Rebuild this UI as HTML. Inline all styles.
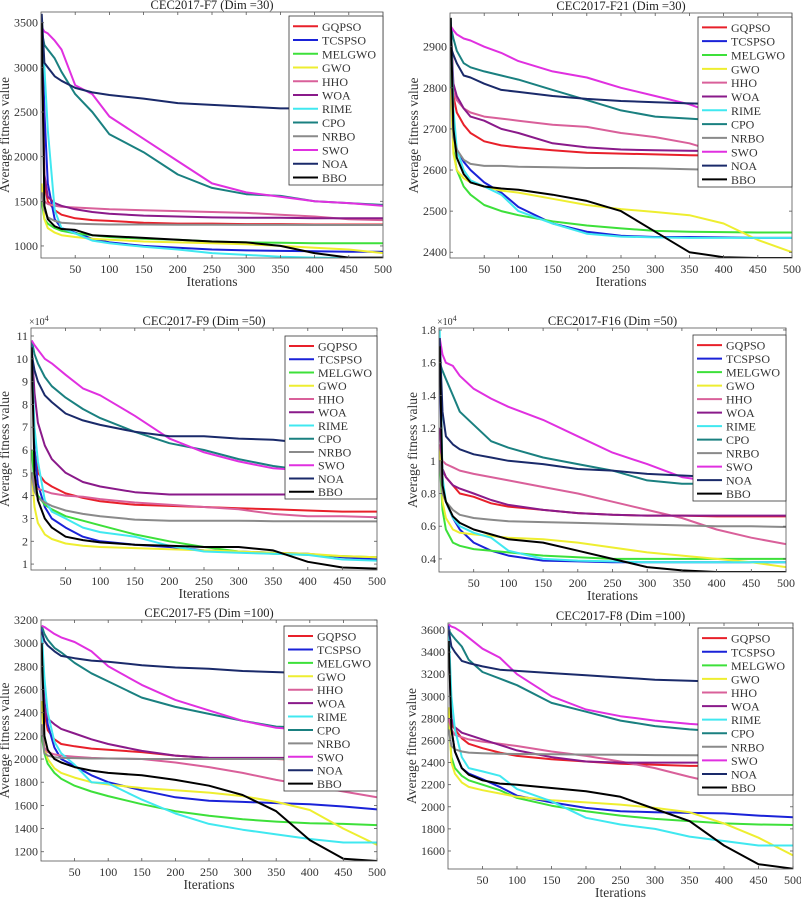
<!DOCTYPE html>
<html><head><meta charset="utf-8">
<style>
html,body{margin:0;padding:0;background:#fff;}
svg{display:block;font-family:"Liberation Serif",serif;}
</style></head>
<body>
<svg id="fig" width="801" height="899" viewBox="0 0 801 899"></svg>
<script>
const iters = [1,5,10,20,30,50,75,100,150,200,250,300,350,400,450,500];
const seriesNames = ["GQPSO","TCSPSO","MELGWO","GWO","HHO","WOA","RIME","CPO","NRBO","SWO","NOA","BBO"];
const seriesColors = ["#e8202a","#1a22d8","#3de03a","#eeee30","#d9609a","#8a1a8a","#40e8f0","#1a8080","#8a8a8a","#e030e0","#1a2a6a","#000000"];
const xTicks = [50,100,150,200,250,300,350,400,450,500];

const f7Values = [
[3500,1700,1500,1400,1350,1310,1290,1280,1260,1250,1250,1245,1245,1240,1240,1240],
[3550,2500,1700,1300,1200,1150,1080,1040,1000,980,960,950,945,940,935,935],
[1500,1300,1250,1200,1170,1140,1120,1100,1080,1070,1050,1040,1035,1030,1030,1030],
[1700,1300,1200,1150,1120,1100,1080,1070,1050,1040,1030,1020,1000,980,960,920],
[1600,1500,1470,1450,1440,1430,1420,1410,1400,1390,1380,1370,1350,1330,1300,1290],
[3500,1800,1550,1480,1450,1410,1380,1360,1340,1330,1320,1315,1315,1310,1310,1310],
[3500,3000,2300,1400,1200,1140,1060,1030,990,960,920,900,880,870,865,865],
[3400,3250,3200,3100,2950,2700,2500,2250,2050,1800,1650,1580,1560,1500,1480,1460],
[1600,1400,1320,1280,1260,1250,1245,1240,1240,1238,1238,1236,1236,1235,1235,1235],
[3450,3400,3380,3300,3200,2800,2700,2450,2200,1950,1700,1600,1550,1500,1480,1450],
[3600,3050,3000,2900,2850,2770,2720,2690,2650,2600,2580,2560,2540,2540,2540,2530],
[3500,1450,1300,1220,1190,1180,1120,1110,1090,1070,1050,1040,1000,920,870,870]];
const f7Ticks = [1000,1500,2000,2500,3000,3500];

const f21Values = [
[2970,2780,2740,2710,2690,2670,2660,2655,2648,2642,2640,2638,2636,2635,2634,2633],
[2960,2700,2650,2620,2600,2570,2545,2510,2470,2450,2440,2437,2437,2436,2435,2435],
[2850,2650,2600,2560,2540,2515,2500,2490,2475,2465,2458,2452,2450,2449,2448,2448],
[2800,2640,2600,2580,2570,2560,2550,2545,2530,2515,2505,2498,2490,2470,2430,2400],
[2950,2790,2770,2750,2740,2730,2725,2720,2710,2705,2690,2680,2665,2640,2620,2590],
[2950,2810,2780,2750,2730,2720,2700,2690,2665,2655,2650,2648,2647,2646,2646,2646],
[2970,2750,2650,2600,2575,2560,2540,2500,2470,2445,2438,2436,2435,2435,2435,2435],
[2950,2920,2890,2860,2850,2840,2830,2820,2795,2770,2745,2730,2725,2720,2710,2690],
[2900,2680,2650,2625,2615,2610,2610,2608,2607,2605,2605,2604,2602,2600,2598,2598],
[2950,2940,2930,2920,2915,2900,2885,2865,2840,2825,2800,2780,2760,2730,2715,2700],
[2900,2880,2860,2830,2825,2810,2795,2790,2780,2773,2768,2765,2762,2760,2760,2760],
[2970,2700,2630,2590,2570,2560,2555,2552,2540,2525,2500,2450,2400,2388,2386,2386]];
const f21Ticks = [2400,2500,2600,2700,2800,2900];

const f9Values = [
[10.5,6,5,4.6,4.4,4.1,3.9,3.75,3.6,3.55,3.5,3.45,3.4,3.35,3.3,3.3],
[10.8,6,4.5,3.5,3.0,2.6,2.2,2.0,1.85,1.75,1.6,1.55,1.5,1.45,1.3,1.2],
[6,4.5,4,3.6,3.4,3.1,2.9,2.7,2.3,2.0,1.75,1.55,1.45,1.4,1.35,1.3],
[5,3.5,2.8,2.3,2.1,1.9,1.8,1.75,1.7,1.65,1.6,1.55,1.5,1.45,1.35,1.3],
[5,4.5,4.3,4.2,4.1,4.0,3.95,3.85,3.7,3.6,3.5,3.4,3.2,3.1,3.1,3.05],
[10.5,8.5,7.2,6.2,5.6,5.0,4.6,4.4,4.15,4.05,4.05,4.05,4.05,4.05,4.05,4.05],
[10,7,5.5,3.8,3.3,3.0,2.6,2.4,2.2,1.8,1.55,1.5,1.45,1.4,1.2,1.15],
[10.8,10.2,9.8,9.2,8.8,8.3,7.8,7.4,6.8,6.3,6.0,5.6,5.3,5.1,5.0,4.8],
[5,4.2,3.9,3.7,3.55,3.35,3.2,3.1,2.95,2.9,2.9,2.9,2.88,2.88,2.87,2.87],
[10.8,10.6,10.4,10,9.8,9.3,8.7,8.4,7.5,6.5,5.9,5.5,5.2,5.1,4.9,4.7],
[10.2,9.5,9,8.4,8.1,7.6,7.3,7.1,6.8,6.6,6.6,6.5,6.45,6.3,6.3,6.3],
[10.5,5,3.8,3.0,2.6,2.2,2.05,1.95,1.85,1.8,1.75,1.75,1.6,1.1,0.85,0.8]];
const f9Ticks = [1,2,3,4,5,6,7,8,9,10,11];

const f16Values = [
[1.1,0.95,0.9,0.85,0.8,0.78,0.74,0.72,0.7,0.68,0.67,0.665,0.665,0.66,0.66,0.66],
[1.6,0.85,0.75,0.65,0.58,0.5,0.45,0.42,0.39,0.385,0.38,0.38,0.38,0.38,0.38,0.38],
[1.0,0.7,0.58,0.5,0.48,0.46,0.45,0.44,0.42,0.41,0.4,0.4,0.4,0.4,0.4,0.4],
[1.1,0.75,0.65,0.58,0.56,0.55,0.54,0.53,0.52,0.5,0.47,0.44,0.42,0.4,0.38,0.35],
[1.1,1.0,0.98,0.96,0.94,0.92,0.9,0.88,0.84,0.8,0.75,0.7,0.65,0.58,0.53,0.49],
[1.2,0.95,0.9,0.85,0.83,0.8,0.76,0.73,0.7,0.68,0.67,0.665,0.665,0.665,0.665,0.665],
[1.8,0.9,0.75,0.65,0.6,0.56,0.53,0.45,0.4,0.39,0.385,0.38,0.38,0.38,0.38,0.38],
[1.6,1.55,1.5,1.4,1.3,1.22,1.12,1.08,1.02,0.98,0.94,0.88,0.86,0.86,0.86,0.86],
[1.0,0.8,0.75,0.7,0.67,0.65,0.64,0.63,0.625,0.62,0.615,0.61,0.605,0.6,0.6,0.595],
[1.75,1.65,1.6,1.58,1.52,1.44,1.38,1.33,1.25,1.15,1.05,0.98,0.9,0.87,0.84,0.8],
[1.75,1.3,1.15,1.1,1.07,1.04,1.02,1.0,0.98,0.95,0.94,0.92,0.91,0.9,0.89,0.87],
[1.7,0.85,0.75,0.66,0.62,0.58,0.55,0.52,0.5,0.45,0.4,0.35,0.33,0.32,0.32,0.32]];
const f16Ticks = [0.4,0.6,0.8,1,1.2,1.4,1.6,1.8];

const f5Values = [
[3100,2400,2250,2170,2130,2110,2090,2080,2060,2030,2010,2000,2000,1990,1990,1980],
[3150,2500,2300,2100,2000,1940,1860,1800,1730,1670,1640,1630,1620,1610,1590,1565],
[2200,2050,1960,1880,1830,1770,1720,1680,1610,1550,1510,1480,1460,1445,1440,1430],
[2500,2100,2000,1920,1880,1840,1800,1780,1750,1730,1710,1680,1630,1560,1400,1260],
[2300,2100,2060,2040,2030,2020,2010,2005,2000,1970,1930,1880,1820,1770,1720,1670],
[3000,2450,2350,2300,2260,2220,2170,2130,2070,2030,2010,2010,2010,2010,2010,2010],
[3100,2700,2400,2150,2050,1950,1800,1790,1650,1530,1440,1390,1350,1310,1280,1280],
[3150,3080,3030,2960,2920,2830,2740,2670,2530,2450,2390,2330,2280,2270,2230,2210],
[2300,2050,2030,2015,2010,2008,2005,2005,2000,2000,2000,2000,2000,2000,2000,2000],
[3150,3140,3120,3080,3050,3010,2930,2800,2640,2510,2420,2330,2270,2250,2230,2200],
[3100,3020,2980,2930,2890,2870,2850,2840,2810,2790,2780,2760,2750,2740,2740,2730],
[3000,2200,2080,2000,1970,1930,1900,1880,1860,1820,1770,1690,1550,1300,1140,1120]];
const f5Ticks = [1200,1400,1600,1800,2000,2200,2400,2600,2800,3000,3200];

const f8Values = [
[3600,2750,2700,2620,2570,2530,2490,2460,2430,2410,2390,2380,2370,2370,2360,2360],
[3650,2700,2500,2350,2300,2250,2180,2100,2040,1990,1960,1950,1945,1940,1920,1905],
[2800,2450,2350,2280,2240,2200,2150,2080,2010,1960,1920,1890,1870,1850,1840,1835],
[2900,2400,2300,2220,2180,2150,2120,2090,2060,2040,2020,1990,1950,1850,1720,1560],
[2800,2700,2650,2630,2610,2590,2570,2550,2500,2460,2410,2350,2270,2200,2170,2140],
[3600,2800,2720,2670,2650,2610,2560,2510,2450,2410,2400,2400,2400,2400,2400,2400],
[3600,3000,2700,2450,2350,2320,2280,2160,2050,1900,1840,1800,1730,1690,1650,1650],
[3600,3560,3520,3450,3330,3220,3160,3100,2940,2860,2780,2730,2700,2680,2640,2600],
[2700,2550,2520,2500,2490,2485,2480,2478,2475,2472,2470,2468,2466,2465,2463,2460],
[3650,3630,3620,3580,3530,3430,3350,3200,3000,2880,2820,2780,2750,2730,2680,2640],
[3600,3450,3400,3320,3300,3270,3240,3230,3210,3190,3170,3150,3140,3130,3130,3130],
[3500,2700,2500,2350,2290,2240,2210,2200,2170,2140,2090,1980,1870,1650,1480,1440]];
const f8Ticks = [1600,1800,2000,2200,2400,2600,2800,3000,3200,3400,3600];

const panels = [
 {id:"f7", title:"CEC2017-F7 (Dim =30)", vals:f7Values, ticks:f7Ticks, L:41,R:383,T:12,B:258, ymin:865,ymax:3620, leg:[289,16,383,185], exp:false},
 {id:"f21", title:"CEC2017-F21 (Dim =30)", vals:f21Values, ticks:f21Ticks, L:450,R:792,T:13,B:258, ymin:2386,ymax:2982, leg:[698,17,792,187], exp:false},
 {id:"f9", title:"CEC2017-F9 (Dim =50)", vals:f9Values, ticks:f9Ticks, L:31,R:377,T:328,B:570, ymin:0.74,ymax:11.35, leg:[285,336,377,499], exp:true},
 {id:"f16", title:"CEC2017-F16 (Dim =50)", vals:f16Values, ticks:f16Ticks, L:439,R:786,T:328,B:572, ymin:0.32,ymax:1.812, leg:[693,335,786,501], exp:true},
 {id:"f5", title:"CEC2017-F5 (Dim =100)", vals:f5Values, ticks:f5Ticks, L:41,R:377,T:620,B:861, ymin:1120,ymax:3200, leg:[284,626,377,791], exp:false},
 {id:"f8", title:"CEC2017-F8 (Dim =100)", vals:f8Values, ticks:f8Ticks, L:448,R:793,T:623,B:869, ymin:1437,ymax:3663, leg:[698,628,793,795], exp:false}
];

const NS = "http://www.w3.org/2000/svg";
const svg = document.getElementById("fig");
function mk(tag, attrs, parent, text){
  const e = document.createElementNS(NS, tag);
  for (const k in attrs) e.setAttribute(k, attrs[k]);
  if (text !== undefined) e.textContent = text;
  (parent||svg).appendChild(e);
  return e;
}

panels.forEach(p => {
  const g = mk("g", {});
  
  
  const xScale = v => p.L + (v) / 500 * (p.R - p.L);
  const yScale = v => p.B - (v - p.ymin) / (p.ymax - p.ymin) * (p.B - p.T);
  const cp = mk("clipPath", {id:"clip-"+p.id}, g);
  mk("rect", {x:p.L, y:p.T, width:p.R-p.L, height:p.B-p.T}, cp);
  p.vals.forEach((arr, i) => {
    const pts = arr.map((v, k) => xScale(iters[k]).toFixed(1) + "," + yScale(v).toFixed(1)).join(" ");
    const pl = mk("polyline", {points:pts, fill:"none", stroke:seriesColors[i], "stroke-width":2, "stroke-linejoin":"round", "clip-path":"url(#clip-"+p.id+")"}, g);
    
    
  });
  const box = mk("rect", {x:p.L, y:p.T, width:p.R-p.L, height:p.B-p.T, fill:"none", stroke:"#555", "stroke-width":0.8}, g);
  
  
  xTicks.forEach(t => {
    const x = xScale(t);
    mk("line", {x1:x, x2:x, y1:p.B, y2:p.B-3, stroke:"#555", "stroke-width":0.8}, g);
    mk("line", {x1:x, x2:x, y1:p.T, y2:p.T+3, stroke:"#555", "stroke-width":0.8}, g);
    const tl = mk("text", {x:x, y:p.B+15, "text-anchor":"middle", "font-size":12, fill:"#333"}, g, String(t));
    
    
  });
  p.ticks.forEach(t => {
    const y = yScale(t);
    mk("line", {x1:p.L, x2:p.L+3, y1:y, y2:y, stroke:"#555", "stroke-width":0.8}, g);
    mk("line", {x1:p.R, x2:p.R-3, y1:y, y2:y, stroke:"#555", "stroke-width":0.8}, g);
    const tl = mk("text", {x:p.L-3, y:y+4, "text-anchor":"end", "font-size":12, fill:"#333"}, g, String(t));
    
    
  });
  if (p.exp) {
    const ex = mk("text", {x:p.L-2, y:p.T-3, "font-size":10, fill:"#333"}, g, "×10");
    
    
    mk("tspan", {dy:-4, "font-size":8}, ex, "4");
  }
  const tt = mk("text", {x:(p.L+p.R)/2, y:p.T-3, "text-anchor":"middle", "font-size":12.5, fill:"#222"}, g, p.title);
  
  
  const xt = mk("text", {x:(p.L+p.R)/2, y:p.B+28, "text-anchor":"middle", "font-size":13.5, fill:"#333"}, g, "Iterations");
  
  
  const yc = (p.T+p.B)/2, yx = p.L - (p.exp ? 22 : 32);
  const yt = mk("text", {x:yx, y:yc, "text-anchor":"middle", "font-size":13.5, fill:"#333", transform:"rotate(-90 "+yx+" "+yc+")"}, g, "Average fitness value");
  
  
  const [lx1, ly1, lx2, ly2] = p.leg;
  const lg = mk("g", {}, g);
  
  
  mk("rect", {x:lx1, y:ly1, width:lx2-lx1, height:ly2-ly1, fill:"#fff", stroke:"#333", "stroke-width":0.8}, lg);
  const step = (ly2 - ly1) / 12.3;
  seriesNames.forEach((n, i) => {
    const y = ly1 + step*0.75 + i*step;
    const en = mk("g", {}, lg);
    
    
    mk("line", {x1:lx1+4, x2:lx1+29, y1:y, y2:y, stroke:seriesColors[i], "stroke-width":2}, en);
    mk("text", {x:lx1+33, y:y+4.5, "font-size":12, fill:"#333"}, en, n);
  });
});
</script>
</body></html>
